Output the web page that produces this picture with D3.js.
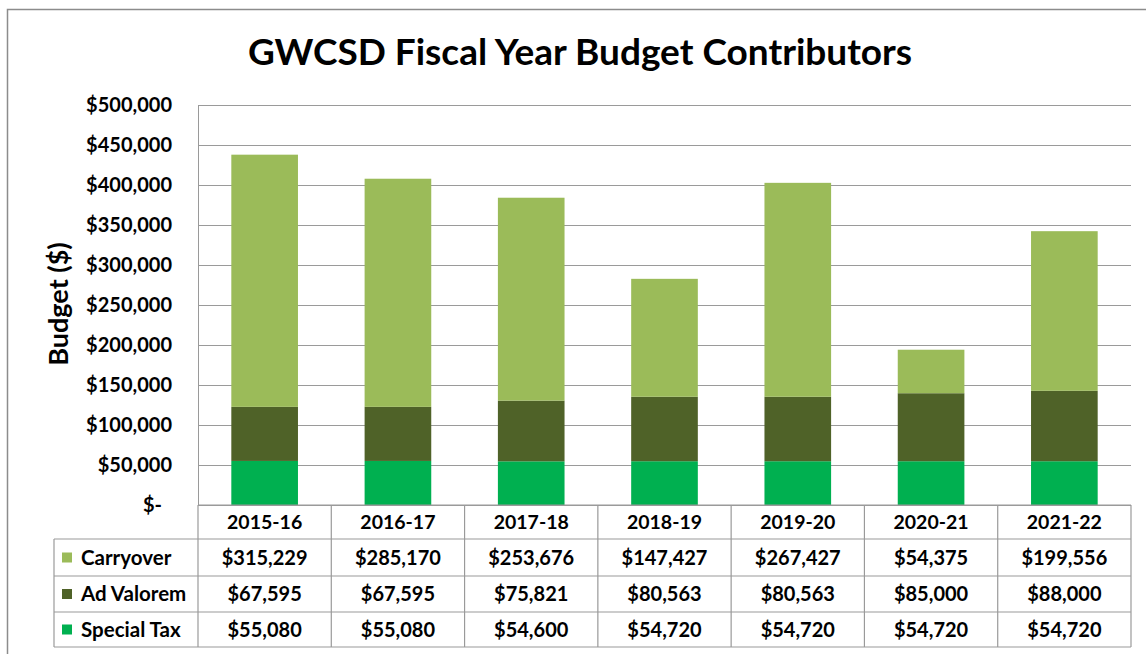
<!DOCTYPE html>
<html>
<head>
<meta charset="utf-8">
<script src="https://cdn.jsdelivr.net/npm/d3@7"></script>
<style>
  body { margin: 0; background: #fff; }
  text { font-family: Lato, "Open Sans", sans-serif; font-weight: bold; fill: #000; }
</style>
</head>
<body>
<div id="chart"></div>
<script>
// data
const years = ["2015-16", "2016-17", "2017-18", "2018-19", "2019-20", "2020-21", "2021-22"];
const carryover = [315229, 285170, 253676, 147427, 267427, 54375, 199556];
const adValorem = [67595, 67595, 75821, 80563, 80563, 85000, 88000];
const specialTax = [55080, 55080, 54600, 54720, 54720, 54720, 54720];
const seriesNames = ["Carryover", "Ad Valorem", "Special Tax"];
const seriesColors = ["#9bbb59", "#4f6228", "#00b050"];
const yTicks = [0, 50000, 100000, 150000, 200000, 250000, 300000, 350000, 400000, 450000, 500000];

const width = 1146, height = 654;
const plotLeft = 198, plotRight = 1131, plotTop = 105, base = 505;
const rowY = [505, 539, 576, 612, 647];
const legendX = 54;

const svg = d3.select("#chart").append("svg").attr("width", width).attr("height", height);

// outer frame
svg.append("rect").attr("x", 7.5).attr("y", 9.5).attr("width", 1160).attr("height", 700)
  .attr("fill", "none").attr("stroke", "#8c8c8c").attr("stroke-width", 1.5);

svg.append("text").attr("x", 580).attr("y", 65).attr("text-anchor", "middle")
  .style("font-size", "37px").text("GWCSD Fiscal Year Budget Contributors");

const x = d3.scaleBand().domain(years).range([plotLeft, plotRight]).paddingInner(0.5).paddingOuter(0.25);
const y = d3.scaleLinear().domain([0, 500000]).range([base, plotTop]);

// gridlines + y labels
const fmt = d3.format(",");
const yAxis = svg.append("g").attr("transform", `translate(${plotLeft},0)`)
  .call(d3.axisLeft(y).tickValues(yTicks).tickSize(-(plotRight - plotLeft)).tickPadding(26)
    .tickFormat(d => d === 0 ? "$-" : "$" + fmt(d)));
yAxis.select(".domain").attr("stroke", "#9a9a9a");
yAxis.selectAll(".tick line").attr("stroke", "#9a9a9a");
yAxis.selectAll(".tick text").style("font-size", "20px").attr("fill", "#000");
yAxis.selectAll(".tick text").filter(d => d === 0).attr("dx", -10);

svg.append("text").attr("transform", "translate(68,304) rotate(-90)")
  .attr("text-anchor", "middle").style("font-size", "27px").text("Budget ($)");

// stacked bars
const rows = years.map((yr, i) => ({ year: yr, "Special Tax": specialTax[i], "Ad Valorem": adValorem[i], "Carryover": carryover[i] }));
const stack = d3.stack().keys(["Special Tax", "Ad Valorem", "Carryover"])(rows);
const color = d3.scaleOrdinal().domain(seriesNames).range(seriesColors);

svg.append("g").selectAll("g").data(stack).join("g")
  .attr("fill", d => color(d.key))
  .selectAll("rect").data(d => d).join("rect")
  .attr("x", d => x(d.data.year))
  .attr("width", x.bandwidth())
  .attr("y", d => y(d[1]))
  .attr("height", d => y(d[0]) - y(d[1]));

// data table
const table = svg.append("g");
const line = (x1, y1, x2, y2) => table.append("line")
  .attr("x1", x1).attr("y1", y1).attr("x2", x2).attr("y2", y2)
  .attr("stroke", "#9a9a9a").attr("stroke-width", 1.2);

line(plotLeft, base, plotRight, base);
for (let r = 1; r < rowY.length; r++) line(legendX, rowY[r], plotRight, rowY[r]);
line(legendX, rowY[1], legendX, rowY[4]);
const step = x.step();
for (let c = 0; c <= years.length; c++) {
  const cx = plotLeft + c * step;
  line(cx, base, cx, rowY[4]);
}

// header years
table.selectAll(".yr").data(years).join("text")
  .attr("x", d => x(d) + x.bandwidth() / 2)
  .attr("y", (rowY[0] + rowY[1]) / 2 + 7)
  .attr("text-anchor", "middle").style("font-size", "19.5px").text(d => d);

const series = [carryover, adValorem, specialTax];
series.forEach((vals, r) => {
  const cy = (rowY[r + 1] + rowY[r + 2]) / 2;
  table.append("rect").attr("x", 62).attr("y", cy - 5).attr("width", 10).attr("height", 10)
    .attr("fill", seriesColors[r]);
  table.append("text").attr("x", 81).attr("y", cy + 7).style("font-size", "20.5px").text(seriesNames[r]);
  table.selectAll(null).data(vals).join("text")
    .attr("x", (d, i) => x(years[i]) + x.bandwidth() / 2)
    .attr("y", cy + 7)
    .attr("text-anchor", "middle").style("font-size", "20px")
    .text(d => "$" + fmt(d));
});
</script>
</body>
</html>
